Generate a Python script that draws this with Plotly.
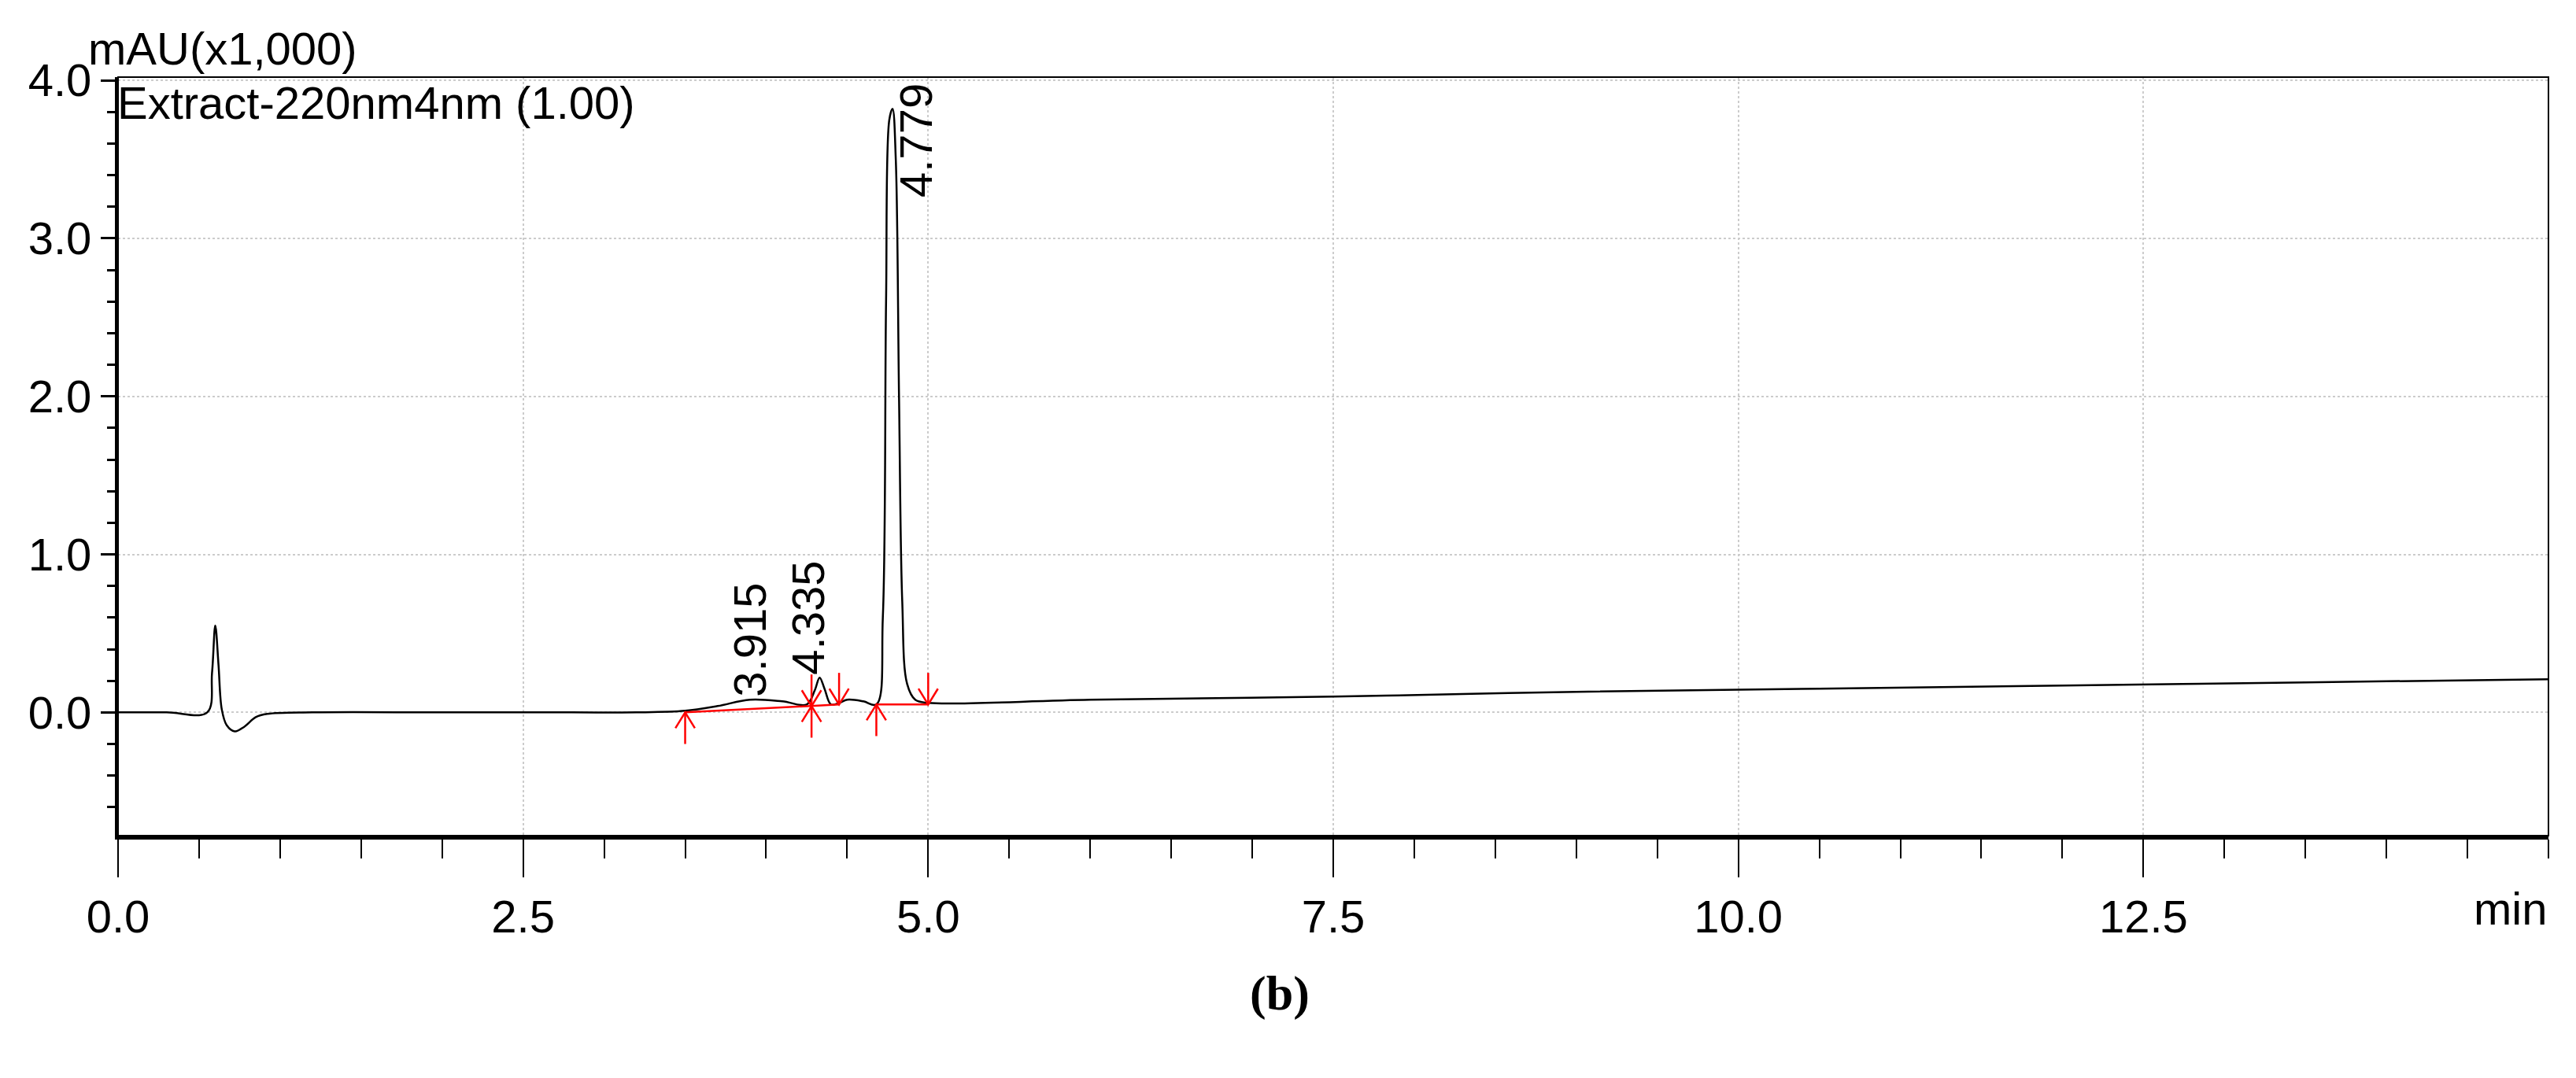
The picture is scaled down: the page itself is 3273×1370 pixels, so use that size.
import plotly.graph_objects as go

# chromatogram trace (min, mAU x1000)
time_min = [0.0, 0.3, 0.55, 0.58, 0.60, 0.62, 0.64, 0.67, 0.72, 0.78, 0.85, 0.92, 1.2, 2.0, 2.8, 3.2,
            3.5, 3.7, 3.9, 4.1, 4.25, 4.30, 4.33, 4.36, 4.40, 4.45, 4.50, 4.6, 4.68, 4.72, 4.74, 4.76,
            4.78, 4.80, 4.82, 4.84, 4.87, 4.92, 5.0, 6.0, 7.5, 9.0, 10.5, 12.0, 13.5, 15.0]
signal = [0.0, 0.0, 0.0, 0.25, 0.55, 0.30, 0.02, -0.08, -0.12, -0.09, -0.03, -0.01, 0.0, 0.0, 0.0, 0.0,
          0.01, 0.04, 0.08, 0.07, 0.05, 0.14, 0.22, 0.15, 0.05, 0.06, 0.08, 0.07, 0.05, 0.6, 2.6, 3.75,
          3.82, 3.5, 2.0, 0.7, 0.18, 0.08, 0.06, 0.08, 0.10, 0.13, 0.15, 0.17, 0.19, 0.21]

peak_times = [3.915, 4.335, 4.779]
peak_label_x = [3.90, 4.26, 4.92]
peak_label_y = [0.09, 0.23, 3.25]

# integration baseline points and markers
base_x = [[3.5, 4.28, 4.45], [4.68, 5.0]]
base_y = [[0.0, 0.04, 0.05], [0.05, 0.05]]
up_x = [3.5, 4.28, 4.68]
up_y = [0.0, 0.04, 0.05]
down_x = [4.28, 4.45, 5.0]
down_y = [0.04, 0.05, 0.05]

fig = go.Figure()
fig.add_trace(go.Scatter(x=time_min, y=signal, mode="lines", line=dict(color="black", width=2.5),
                         line_shape="spline", hoverinfo="skip"))

red = dict(color="red", width=2.5)
for bx, by in zip(base_x, base_y):
    fig.add_trace(go.Scatter(x=bx, y=by, mode="lines", line=red))

L, H, W = 0.2, 0.1, 0.06
for x, y in zip(up_x, up_y):
    fig.add_trace(go.Scatter(x=[x, x, None, x - W, x, x + W], y=[y - L, y, None, y - H, y, y - H],
                             mode="lines", line=red))
for x, y in zip(down_x, down_y):
    fig.add_trace(go.Scatter(x=[x, x, None, x - W, x, x + W], y=[y + L, y, None, y + H, y, y + H],
                             mode="lines", line=red))

font = dict(family="Liberation Sans", size=58, color="black")
for t, x, y in zip(peak_times, peak_label_x, peak_label_y):
    fig.add_annotation(x=x, y=y, text=f"{t:.3f}", textangle=-90, showarrow=False,
                       xanchor="center", yanchor="bottom", font=font)

fig.add_annotation(xref="paper", yref="paper", x=-0.013, y=1.0, yanchor="bottom", xanchor="left",
                   text="mAU(x1,000)", showarrow=False, font=font, yshift=2)
fig.add_annotation(xref="paper", yref="paper", x=-0.001, y=1.0, yanchor="top", xanchor="left",
                   text="Extract-220nm4nm (1.00)", showarrow=False, font=font, yshift=2)
fig.add_annotation(xref="paper", yref="paper", x=1.0, y=-0.06, yanchor="top", xanchor="right",
                   text="min", showarrow=False, font=font)
fig.add_annotation(xref="paper", yref="paper", x=0.478, y=-0.17, yanchor="top", xanchor="center",
                   text="<b>(b)</b>", showarrow=False,
                   font=dict(family="Liberation Serif", size=62, color="black"))

fig.update_xaxes(range=[0, 15], tickvals=[0, 2.5, 5, 7.5, 10, 12.5],
                 ticktext=["0.0", "2.5", "5.0", "7.5", "10.0", "12.5"],
                 ticks="outside", ticklen=48, tickwidth=2, tickcolor="black",
                 minor=dict(dtick=0.5, ticks="outside", ticklen=24, tickwidth=2, tickcolor="black",
                            showgrid=False),
                 showgrid=True, gridcolor="#cccccc", griddash="dot", gridwidth=2,
                 showline=True, linecolor="black", linewidth=5, mirror=False,
                 tickfont=font, zeroline=False)
fig.update_yaxes(range=[-0.78, 4.02], tickvals=[0, 1, 2, 3, 4],
                 ticktext=["0.0", "1.0", "2.0", "3.0", "4.0"],
                 ticks="outside", ticklen=18, tickwidth=3, tickcolor="black",
                 minor=dict(dtick=0.2, tick0=0, ticks="outside", ticklen=10, tickwidth=3,
                            tickcolor="black", showgrid=False),
                 showgrid=True, gridcolor="#cccccc", griddash="dot", gridwidth=2,
                 showline=True, linecolor="black", linewidth=4,
                 tickfont=font, zeroline=False)
fig.add_shape(type="rect", xref="paper", yref="paper", x0=0, y0=0, x1=1, y1=1,
              line=dict(color="black", width=2))

fig.update_layout(width=3273, height=1370, showlegend=False, plot_bgcolor="white",
                  paper_bgcolor="white", margin=dict(l=142, r=43, t=90, b=316))
fig.write_html("out.html")
